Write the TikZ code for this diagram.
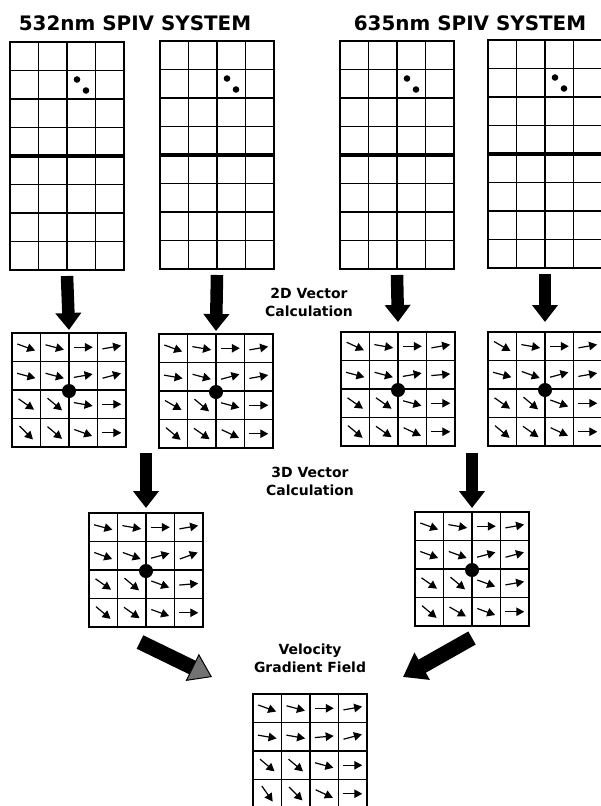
\documentclass[tikz,border=0pt]{standalone}
\usepackage{fontspec}
\setmainfont{DejaVu Sans}
\usetikzlibrary{calc,arrows.meta}
\tikzset{
 gridbox/.style={draw, line width=1.9bp, inner sep=0pt, outer sep=0pt, anchor=north west},
 tallgrid/.style={gridbox, minimum width=114bp, minimum height=228bp},
 sqgrid/.style={gridbox, minimum width=114bp, minimum height=114bp},
 gline/.style={line width=1.7bp},
 sline/.style={line width=1.4bp},
 midline/.style={line width=4.5bp},
 bigarrow/.style={line width=12.5bp, -{Triangle[length=17bp,width=25bp]}},
 diagarrow/.style={line width=15bp, -{Triangle[length=22bp,width=30bp]}},
 greyarrow/.style={line width=15bp, -{Triangle[length=22bp,width=30bp,line width=1bp,fill=black!55]}},
 vecarrow/.style={line width=1.2bp, -{Triangle[length=8bp,width=8.5bp]}},
 titletext/.style={font=\bfseries\fontsize{20}{24}\selectfont},
 lbltext/.style={font=\bfseries\fontsize{14}{18}\selectfont, align=center},
}
\newcommand\tallgridlines[1]{%
 \foreach \i in {1,2,3} \draw[gline] ($(#1.north west)!\i/4!(#1.north east)$) -- ($(#1.south west)!\i/4!(#1.south east)$);
 \foreach \j in {1,2,3,5,6,7} \draw[gline] ($(#1.north west)!\j/8!(#1.south west)$) -- ($(#1.north east)!\j/8!(#1.south east)$);
 \draw[midline] (#1.west) -- (#1.east);
 \fill ($(#1.north west)+(67,37.5)$) circle (3.3bp);
 \fill ($(#1.north west)+(76,48.5)$) circle (3.3bp);
}
\newcommand\sqgridlines[1]{%
 \foreach \i in {1,2,3} {
   \draw[sline] ($(#1.north west)!\i/4!(#1.north east)$) -- ($(#1.south west)!\i/4!(#1.south east)$);
   \draw[sline] ($(#1.north west)!\i/4!(#1.south west)$) -- ($(#1.north east)!\i/4!(#1.south east)$);
 }
}
\newcommand\vfield[2]{%
 \foreach \a [count=\k from 0] in {#2} {
   \pgfmathtruncatemacro\cc{mod(\k,4)}
   \pgfmathtruncatemacro\rr{floor(\k/4)}
   \draw[vecarrow] ($(#1.north west)+(\cc*28.5+14.25,\rr*28.5+14.25)$) ++(\a+180:9.5) -- ++(\a:19);
 }
}
\newcommand\bigdot[1]{\fill ($(#1.north west)+(57,58)$) circle (7bp);}
\begin{document}
\begin{tikzpicture}[x=1bp,y=-1bp]
\useasboundingbox (0,0) rectangle (601,806);
\fill[white] (0,0) rectangle (601,806);
% titles
\node[titletext] (t1) at (135,23) {532nm SPIV SYSTEM};
\node[titletext] (t2) at (470,23) {635nm SPIV SYSTEM};
% tall grids
\node[tallgrid] (g1) at (10,42) {};
\node[tallgrid] (g2) at (160,41) {};
\node[tallgrid] (g3) at (340,41) {};
\node[tallgrid] (g4) at (488,40) {};
\tallgridlines{g1}\tallgridlines{g2}\tallgridlines{g3}\tallgridlines{g4}
% 2D vector grids
\node[sqgrid] (a) at (12,333) {};
\node[sqgrid] (b) at (159,334) {};
\node[sqgrid] (c) at (341,332) {};
\node[sqgrid] (d) at (488,332) {};
% 3D vector grids
\node[sqgrid] (e) at (89,513) {};
\node[sqgrid] (f) at (415,512) {};
% velocity gradient grid
\node[sqgrid] (v) at (253,694) {};
\sqgridlines{a}\sqgridlines{b}\sqgridlines{c}\sqgridlines{d}
\sqgridlines{e}\sqgridlines{f}\sqgridlines{v}
\vfield{a}{20,15,0,-10, 15,15,-10,-15, 35,40,10,0, 45,40,20,0}
\vfield{b}{20,10,0,-10, 10,15,-15,-10, 30,40,15,0, 40,35,25,0}
\vfield{c}{25,10,0,-10, 15,15,-10,-5, 35,35,15,0, 40,35,25,0}
\vfield{d}{30,10,0,-10, 15,20,-15,-10, 35,40,20,0, 40,35,25,0}
\vfield{e}{15,10,0,-10, 20,20,-15,-20, 35,40,20,-5, 40,35,20,0}
\vfield{f}{20,10,0,-10, 20,20,-15,-15, 35,40,20,-10, 40,30,20,0}
\vfield{v}{20,15,0,-10, 10,10,-5,-15, 40,40,15,0, 55,45,25,0}
\bigdot{a}\bigdot{b}\bigdot{c}\bigdot{d}\bigdot{e}\bigdot{f}
% labels
\node[lbltext] (l2d) at (309,302) {2D Vector\\Calculation};
\node[lbltext] (l3d) at (310,481) {3D Vector\\Calculation};
\node[lbltext] (lvel) at (310,658) {Velocity\\Gradient Field};
% arrows
\draw[bigarrow] ([yshift=-6bp]g1.south) -- ([yshift=3bp]a.north);
\draw[bigarrow] ([yshift=-6bp]g2.south) -- ([yshift=3bp]b.north);
\draw[bigarrow] ([yshift=-6bp]g3.south) -- ([yshift=10bp]c.north);
\draw[bigarrow] ([yshift=-6bp]g4.south) -- ([yshift=10bp]d.north);
\draw[bigarrow] ([yshift=60bp]e.north) -- ([yshift=5bp]e.north);
\draw[bigarrow] ([yshift=59bp]f.north) -- ([yshift=4bp]f.north);
\coordinate (ls) at (140,642);
\coordinate (rs) at (472,638);
\draw[greyarrow] (ls) -- ($(v.north west)+(-41,-17)$);
\draw[diagarrow] (rs) -- ($(v.north east)+(36,-17)$);
\end{tikzpicture}
\end{document}
